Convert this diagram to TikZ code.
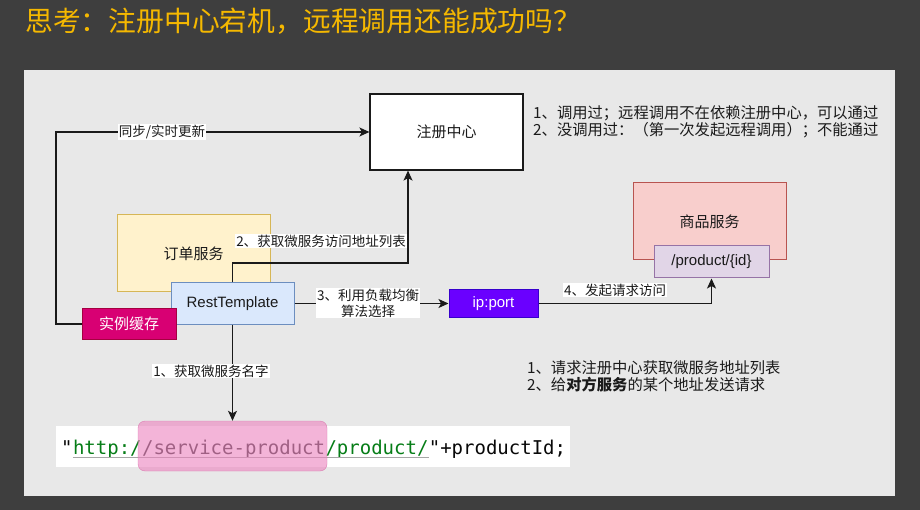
\documentclass[tikz,border=0pt]{standalone}
\usepackage{fontspec}
\setmainfont{Liberation Sans}
\newfontfamily\cjk{Noto Sans CJK SC}
\newfontfamily\codefont{DejaVu Sans Mono}
\usetikzlibrary{arrows.meta}

\definecolor{pagebg}{HTML}{3E3E3E}
\definecolor{panelbg}{HTML}{E8E8E8}
\definecolor{titlecol}{HTML}{F5B800}
\definecolor{inkcol}{HTML}{1A1A1A}
\definecolor{orderfill}{HTML}{FFF2CC}
\definecolor{orderline}{HTML}{D6B656}
\definecolor{rtfill}{HTML}{DAE8FC}
\definecolor{rtline}{HTML}{6C8EBF}
\definecolor{cachefill}{HTML}{D80073}
\definecolor{cacheline}{HTML}{A50040}
\definecolor{ipfill}{HTML}{6A00FF}
\definecolor{ipline}{HTML}{3700CC}
\definecolor{goodsfill}{HTML}{F8CECC}
\definecolor{goodsline}{HTML}{B85450}
\definecolor{prodfill}{HTML}{E1D5E7}
\definecolor{prodline}{HTML}{9673A6}
\definecolor{strgreen}{HTML}{067D17}
\definecolor{strgray}{HTML}{2E2E2E}
\definecolor{codedark}{HTML}{080808}
\definecolor{hlfill}{HTML}{EC82BE}
\definecolor{hlline}{HTML}{D86EAA}

\begin{document}
\begin{tikzpicture}[x=1pt,y=-1pt,
  box/.style={draw, line width=1pt, inner sep=0pt, text=inkcol,
    font=\cjk\fontsize{15}{17}\selectfont},
  latinbox/.style={box, font=\fontsize{15}{17}\selectfont},
  elabel/.style={fill=white, inner sep=1pt, text=inkcol, align=center,
    font=\cjk\fontsize{13.5}{16}\selectfont},
  note/.style={inner sep=0pt, text=inkcol, align=left, anchor=west,
    font=\cjk\fontsize{15.3}{17}\selectfont},
  arr/.style={draw=inkcol, line width=1.2pt,
    -{Stealth[length=10pt,width=9pt,inset=2.5pt]}},
  code/.style={inner sep=0pt, anchor=base west,
    font=\codefont\fontsize{19}{20}\selectfont}
]
% page and panel
\fill[pagebg] (0,0) rectangle (920,510);
\useasboundingbox (0,0) rectangle (920,510);
\fill[panelbg] (24,70) rectangle (895,496);

% heading
\node[anchor=west, inner sep=0pt, text=titlecol,
  font=\cjk\fontsize{27.8}{28}\selectfont] (title) at (25,21)
  {思考：注册中心宕机，远程调用还能成功吗？};

% services and components
\node[box, fill=white, draw=inkcol, line width=1.2pt,
  minimum width=153pt, minimum height=76pt] (reg) at (446.5,132) {注册中心};
\node[box, fill=orderfill, draw=orderline,
  minimum width=153pt, minimum height=77pt] (order) at (193.5,253.5) {订单服务};
\node[latinbox, fill=rtfill, draw=rtline,
  minimum width=123pt, minimum height=41pt] (rt) at (232.5,303.5) {RestTemplate};
\node[box, fill=cachefill, draw=cacheline, text=white,
  minimum width=94pt, minimum height=30pt] (cache) at (129,324) {实例缓存};
\node[latinbox, fill=ipfill, draw=ipline, text=white,
  minimum width=89pt, minimum height=27pt] (ip) at (493.5,303.5) {ip:port};
\node[box, fill=goodsfill, draw=goodsline,
  minimum width=153pt, minimum height=77pt] (goods) at (709.5,221.5) {商品服务};
\node[latinbox, fill=prodfill, draw=prodline,
  minimum width=115pt, minimum height=32pt] (prod) at (711.5,262) {/product/\{id\}};

% code line
\node[fill=white, inner sep=0pt, minimum width=514pt, minimum height=41pt]
  (strip) at (313,446.5) {};
\node[code, text=codedark] (q1) at (61,454) {"};
\node[code, text=strgreen] (urla) at (q1.base east) {http:/};
\node[code, text=strgray] (urlb) at (urla.base east) {/service-product};
\node[code, text=strgreen] (urlc) at (urlb.base east) {/product/};
\node[code, text=codedark] (rest) at (urlc.base east) {"+productId;};
\draw[gray!70, line width=0.8pt]
  ([yshift=-3pt]urla.base west) -- ([yshift=-3pt]urlc.base east);
\node[draw=hlline, fill=hlfill, fill opacity=0.6, draw opacity=0.8,
  rounded corners=7pt, minimum width=189pt, minimum height=50pt, inner sep=0pt]
  (hl) at (232.5,446) {};

% connectors
\coordinate (syncc) at (56,132);
\coordinate (bend2) at (408,263);
\draw[arr] (cache.west) -| (syncc) -- (reg.west);
\draw[arr] (rt.north) |- (bend2) -- (bend2 |- reg.south);
\draw[arr] (rt.east) -- (ip.west);
\draw[arr] (ip.east) -| (prod.south);
\draw[arr] (rt.south) -- (hl.north);

% connector labels
\node[elabel] (lsync) at (162,132) {同步/实时更新};
\node[elabel] (l2) at (321,241) {2、获取微服务访问地址列表};
\node[elabel] (l3) at (368,303) {3、利用负载均衡\\算法选择};
\node[elabel] (l4) at (615,290) {4、发起请求访问};
\node[elabel] (l1) at (211,371) {1、获取微服务名字};

% notes
\node[note] (n1) at (533,121.5)
  {1、调用过；远程调用不在依赖注册中心，可以通过\\
   2、没调用过：（第一次发起远程调用）；不能通过};
\node[note] (n2) at (527,376.5)
  {1、请求注册中心获取微服务地址列表\\
   2、给\textbf{对方服务}的某个地址发送请求};
\end{tikzpicture}
\end{document}
